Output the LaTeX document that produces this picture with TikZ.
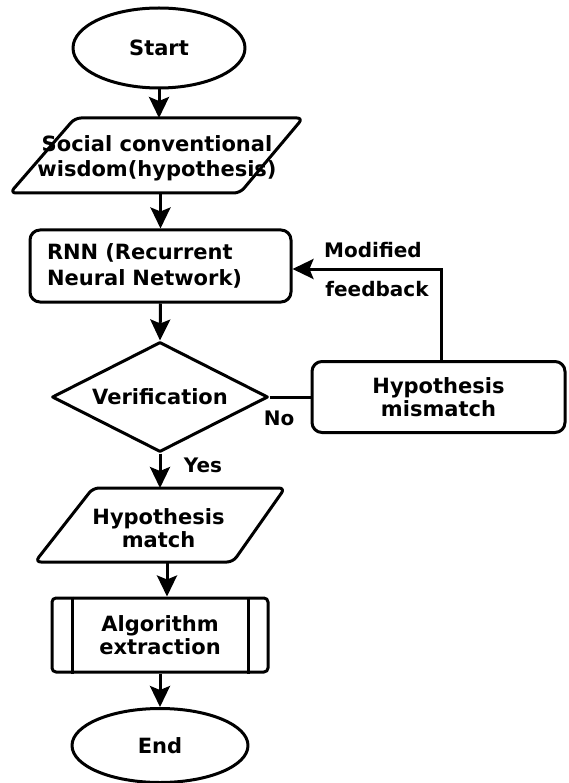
\documentclass[tikz,border=0pt]{standalone}
\usepackage{fontspec}
\setmainfont{DejaVu Sans}
\usetikzlibrary{shapes.geometric,arrows.meta,calc}

\begin{document}
\begin{tikzpicture}[x=1pt,y=-1pt,
  every node/.style={font=\fontsize{21}{23}\selectfont\bfseries, inner sep=0pt},
  outline/.style={line width=3pt, draw=black, line join=round},
  term/.style={outline, ellipse},
  plain/.style={draw=none, align=center},
  box/.style={outline, rectangle, rounded corners=10pt, align=center},
  flow/.style={line width=3pt, -{Stealth[length=21pt,width=20pt,inset=4pt]}},
  link/.style={line width=3pt},
  lbl/.style={font=\fontsize{20}{22}\selectfont\bfseries}
]
\useasboundingbox (0,0) rectangle (568,783);

% terminals
\node[term, minimum width=172pt, minimum height=80pt] (start) at (159,48) {Start};
\node[term, minimum width=176pt, minimum height=74pt] (end) at (160,745.5) {End};

% input / output parallelograms, drawn around the centres of their shapes
\coordinate (socc) at (157,155.5);
\draw[outline, rounded corners=6pt]
  ($(socc)+(-82,-37.5)$) -- ($(socc)+(146,-37.5)$) --
  ($(socc)+(83,37.5)$) -- ($(socc)+(-147,37.5)$) -- cycle;
\coordinate (soctop) at ($(socc)+(0,-37.5)$);
\coordinate (socbot) at ($(socc)+(0,37.5)$);
\node[plain, font=\fontsize{21}{25}\selectfont\bfseries] (soc) at ($(socc)+(0,3)$)
  {Social conventional\\wisdom(hypothesis)};

\coordinate (hmc) at (161.5,525);
\draw[outline, rounded corners=6pt]
  ($(hmc)+(-68.5,-37)$) -- ($(hmc)+(123.5,-37)$) --
  ($(hmc)+(71.5,37)$) -- ($(hmc)+(-126.5,37)$) -- cycle;
\coordinate (hmtop) at ($(hmc)+(0,-37)$);
\coordinate (hmbot) at ($(hmc)+(0,37)$);
\node[plain] (hm) at ($(hmc)+(-3,3)$) {Hypothesis\\match};

% processing boxes
\node[box, align=left, text width=227pt, inner xsep=17pt,
      minimum width=261pt, minimum height=72pt,
      font=\fontsize{21}{26}\selectfont\bfseries] (rnn) at (160.5,266)
  {RNN (Recurrent\\Neural Network)};

\node[box, minimum width=253pt, minimum height=71pt] (mis) at (438.5,397)
  {Hypothesis\\mismatch};

% decision
\node[outline, diamond, shape aspect=2, minimum width=216pt, minimum height=110pt]
  (ver) at (160,397) {Verification};

% predefined process
\node[box, rounded corners=4pt, minimum width=216pt, minimum height=74pt]
  (alg) at (160,635) {Algorithm\\extraction};
\draw[outline] ([xshift=22pt]alg.north west) -- ([xshift=22pt]alg.south west);
\draw[outline] ([xshift=-21pt]alg.north east) -- ([xshift=-21pt]alg.south east);

% connectors
\draw[flow] (start.south) -- (start.south |- soctop);
\draw[flow] (socbot -| rnn.north) -- (rnn.north);
\draw[flow] (rnn.south) -- (ver.north);
\draw[flow] (ver.south) -- (ver.south |- hmtop);
\draw[flow] ([xshift=7pt]alg.north |- hmbot) -- ([xshift=7pt]alg.north);
\draw[flow] (alg.south) -- (end.north);
\draw[link] (ver.east) -- (mis.west);
\draw[flow] ([xshift=2.5pt]mis.north) |- ([yshift=-3pt]rnn.east);

% labels
\node[lbl] (lmod) at (373,250) {Modified};
\node[lbl] (lfb) at (377,289) {feedback};
\node[lbl] (lno) at (279,418) {No};
\node[lbl] (lyes) at (203,465) {Yes};
\end{tikzpicture}
\end{document}
